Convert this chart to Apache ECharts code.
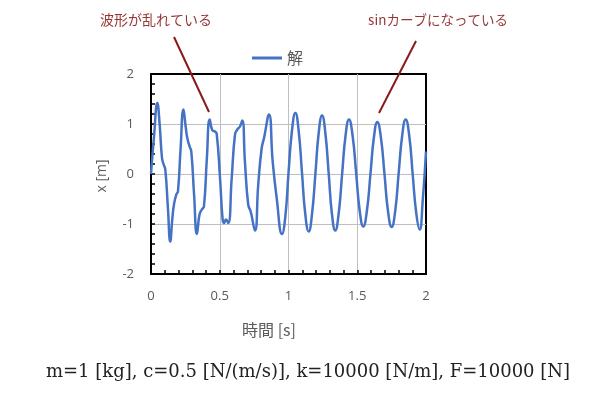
<!DOCTYPE html>
<html><head><meta charset="utf-8">
<script src="https://cdn.jsdelivr.net/npm/echarts@6/dist/echarts.min.js"></script>
<style>html,body{margin:0;padding:0;background:#fff}#c{width:590px;height:394px}</style>
</head><body><div id="c"></div>
<script>
const seriesName = '解';
const timeS = [0, 0.022, 0.046, 0.063, 0.08, 0.092, 0.104, 0.123, 0.14, 0.155, 0.167, 0.184, 0.196, 0.215, 0.236, 0.252, 0.264, 0.281, 0.293, 0.313, 0.334, 0.353, 0.37, 0.385, 0.406, 0.427, 0.445, 0.465, 0.478, 0.502, 0.521, 0.531, 0.545, 0.562, 0.587, 0.611, 0.628, 0.647, 0.664, 0.683, 0.707, 0.725, 0.756, 0.78, 0.805, 0.822, 0.858, 0.885, 0.914, 0.953,
  0.977, 1.0, 1.025, 1.05, 1.074, 1.098, 1.122, 1.147, 1.171, 1.196, 1.22, 1.244, 1.268, 1.292, 1.316, 1.34, 1.365, 1.39, 1.415, 1.44, 1.466, 1.492, 1.518, 1.544, 1.57, 1.596, 1.621, 1.646, 1.672, 1.698, 1.724, 1.75, 1.776, 1.801, 1.827, 1.852, 1.878, 1.903, 1.929, 1.954, 1.977, 2.0];
const xM = [0, 0.75, 1.42, 0.99, 0.32, 0.19, 0.09, -0.68, -1.35, -0.9, -0.61, -0.41, -0.35, 0.5, 1.29, 0.95, 0.72, 0.55, 0.45, -0.4, -1.2, -0.81, -0.71, -0.65, 0.3, 1.09, 0.88, 0.85, 0.8, -0.08, -0.91, -0.98, -0.91, -0.98, -0.08, 0.79, 0.89, 0.95, 1.07, 0.25, -0.61, -0.75, -1.13, -0.21, 0.52, 0.72, 1.19, 0.25, -0.48, -1.2,
  -0.85, 0.02, 0.86, 1.22, 0.86, 0.03, -0.8, -1.15, -0.8, 0.02, 0.83, 1.17, 0.82, 0.02, -0.8, -1.13, -0.79, 0.0, 0.77, 1.09, 0.77, 0.02, -0.74, -1.05, -0.74, 0.0, 0.73, 1.04, 0.73, 0.0, -0.75, -1.06, -0.74, 0.01, 0.77, 1.09, 0.77, 0.0, -0.78, -1.11, -0.5, 0.45];
const xTickValues = [0, 0.5, 1, 1.5, 2];
const yTickValues = [-2, -1, 0, 1, 2];
const xAxisTitle = '時間 [s]';
const yAxisTitle = 'x [m]';
const note1 = '波形が乱れている';
const note2 = 'sinカーブになっている';
const paramText = 'm=1 [kg], c=0.5 [N/(m/s)], k=10000 [N/m], F=10000 [N]';

const chart = echarts.init(document.getElementById('c'), null, {renderer: 'canvas'});
const data = timeS.map((t, i) => [t, xM[i]]);
const labelFont = {color: '#595959', fontSize: 13, fontFamily: 'Open Sans'};
const noteColor = '#953735';
const arrowColor = '#8B1A1A';
chart.setOption({
  animation: false,
  backgroundColor: '#fff',
  grid: {left: 151, top: 74, width: 275, height: 200, show: true, borderColor: '#000', borderWidth: 2, backgroundColor: 'transparent'},
  legend: {left: 247, top: 45, itemWidth: 30, itemHeight: 3, data: [{name: seriesName, icon: 'rect'}],
    textStyle: {color: '#595959', fontSize: 16, fontFamily: 'Noto Sans CJK JP'}},
  xAxis: {type: 'value', min: xTickValues[0], max: xTickValues[xTickValues.length - 1], interval: 0.5,
    axisLine: {show: true, onZero: false, lineStyle: {color: '#000', width: 2}},
    axisTick: {show: true, inside: true, length: 4, lineStyle: {color: '#000', width: 1.5}},
    minorTick: {show: true, splitNumber: 5, length: 4, lineStyle: {color: '#000', width: 1.5}},
    splitLine: {show: true, showMinLine: false, showMaxLine: false, lineStyle: {color: '#bfbfbf', width: 1}},
    axisLabel: Object.assign({margin: 16}, labelFont)},
  yAxis: {type: 'value', min: yTickValues[0], max: yTickValues[yTickValues.length - 1], interval: 1,
    axisLine: {show: true, onZero: false, lineStyle: {color: '#000', width: 2}},
    axisTick: {show: true, inside: true, length: 4, lineStyle: {color: '#000', width: 1.5}},
    minorTick: {show: true, splitNumber: 5, length: 4, lineStyle: {color: '#000', width: 1.5}},
    splitLine: {show: true, showMinLine: false, showMaxLine: false, lineStyle: {color: '#bfbfbf', width: 1}},
    axisLabel: Object.assign({margin: 17}, labelFont)},
  series: [{name: seriesName, type: 'line', data: data, smooth: 0.5, symbol: 'none',
    lineStyle: {color: '#4472C4', width: 2.5}, itemStyle: {color: '#4472C4'}}],
  graphic: [
    {type: 'text', x: 269, y: 330, style: {text: xAxisTitle, fill: '#595959', font: '16px "Noto Sans CJK JP"', align: 'center', verticalAlign: 'middle'}},
    {type: 'text', x: 102, y: 176, rotation: Math.PI / 2, style: {text: yAxisTitle, fill: '#595959', font: '14px "Open Sans"', align: 'center', verticalAlign: 'middle'}},
    {type: 'text', x: 156, y: 20, style: {text: note1, fill: noteColor, font: '14px "Noto Sans CJK JP"', align: 'center', verticalAlign: 'middle'}},
    {type: 'text', x: 438, y: 20, style: {text: note2, fill: noteColor, font: '13.5px "Noto Sans CJK JP"', align: 'center', verticalAlign: 'middle'}},
    {type: 'line', shape: {x1: 174, y1: 37, x2: 209, y2: 112}, style: {stroke: arrowColor, lineWidth: 2}},
    {type: 'line', shape: {x1: 416, y1: 41, x2: 379, y2: 113}, style: {stroke: arrowColor, lineWidth: 2}},
    {type: 'text', x: 308, y: 372, style: {text: paramText, fill: '#222', font: '18px "DejaVu Serif"', align: 'center', verticalAlign: 'middle'}}
  ]
});
</script></body></html>
